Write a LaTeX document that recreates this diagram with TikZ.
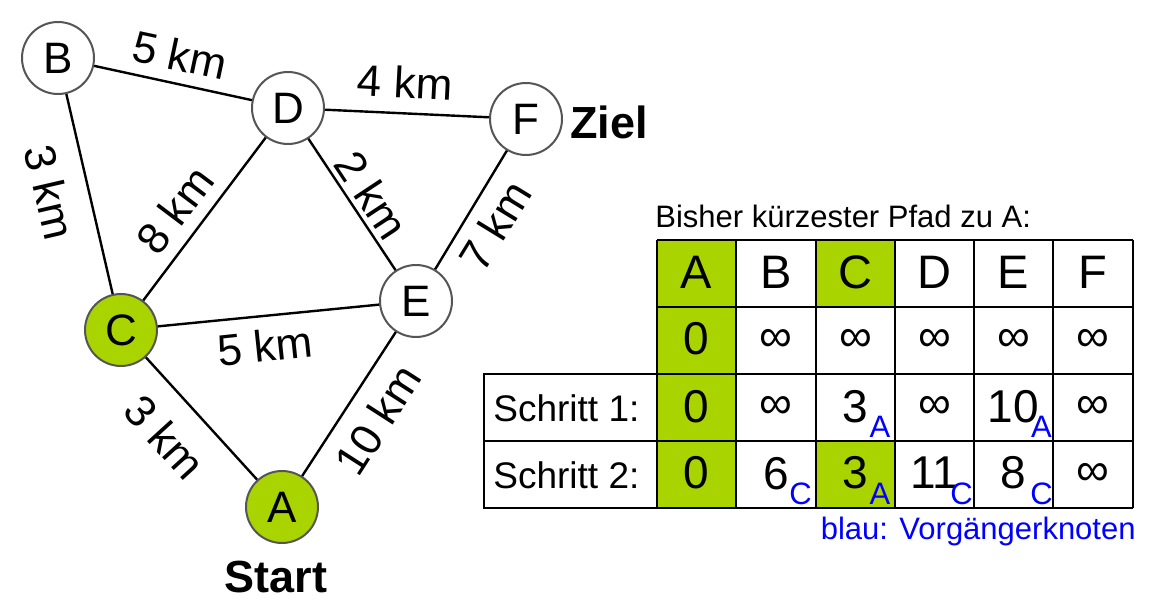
\documentclass[tikz,border=0pt]{standalone}
\usepackage{fontspec}
\setmainfont{Liberation Sans}
\definecolor{lgreen}{RGB}{170,212,0}
\definecolor{ngray}{RGB}{85,85,85}
\begin{document}
\begin{tikzpicture}[x=0.5pt,y=-0.5pt,
 vertex/.style={circle,draw=ngray,line width=1pt,minimum size=36pt,inner sep=0pt,font=\fontsize{22}{22}\selectfont,fill=white},
 greenvertex/.style={vertex,fill=lgreen},
 edge/.style={line width=1.2pt},
 dist/.style={font=\fontsize{22}{22}\selectfont,inner sep=0pt},
 boldlabel/.style={font=\fontsize{22.5}{22}\selectfont\bfseries,inner sep=0pt},
 head/.style={font=\fontsize{23.5}{24}\selectfont,inner sep=0pt,anchor=base},
 val/.style={font=\fontsize{23}{23}\selectfont,inner sep=0pt,anchor=base},
 inf/.style={font=\fontsize{23}{23}\selectfont,inner sep=0pt},
 subl/.style={font=\fontsize{15.5}{15.5}\selectfont,text=blue,inner sep=0pt,anchor=base},
 rowlabel/.style={font=\fontsize{18.5}{18.5}\selectfont,inner sep=0pt,anchor=base west},
 note/.style={font=\fontsize{15.5}{15.5}\selectfont,inner sep=0pt},
 tline/.style={line width=1pt},
 sline/.style={line width=1.4pt}]
\useasboundingbox (0,0) rectangle (1152,608);
% graph
\node[vertex] (B) at (58,58) {B};
\node[vertex] (D) at (288,108) {D};
\node[vertex] (F) at (526,119) {F};
\node[vertex] (E) at (416,301) {E};
\node[greenvertex] (C) at (121,330) {C};
\node[greenvertex] (A) at (282,507) {A};
\draw[edge] (B)--(D) (D)--(F) (B)--(C) (C)--(D) (D)--(E) (E)--(F) (C)--(E) (C)--(A) (A)--(E);
\node[dist,rotate=-12] (lBD) at (180,55) {5 km};
\node[dist,rotate=-3] (lDF) at (405,82) {4 km};
\node[dist,rotate=-77] (lBC) at (50,192) {3 km};
\node[dist,rotate=53] (lCD) at (175,210) {8 km};
\node[dist,rotate=-56.5] (lDE) at (372,195) {2 km};
\node[dist,rotate=58.5] (lEF) at (495,226) {7 km};
\node[dist,rotate=6] (lCE) at (265,346) {5 km};
\node[dist,rotate=-47.7] (lCA) at (165,437) {3 km};
\node[dist,rotate=57.3] (lAE) at (378,420) {10 km};
\node[boldlabel,anchor=west] (ziel) at (570,122) {Ziel};
\node[boldlabel] (start) at (276,577) {Start};
% table
\fill[lgreen] (657,240) rectangle (736,508);
\fill[lgreen] (816,240) rectangle (895,307);
\fill[lgreen] (816,441) rectangle (895,508);
\foreach \x in {657,736,816,895,974,1053,1133} \draw[tline] (\x,240) -- (\x,508);
\foreach \y in {240,307,374,441,508} \draw[tline] (657,\y) -- (1133,\y);
\draw[sline] (657,374) -- (484,374) -- (484,508) -- (657,508);
\draw[sline] (484,441) -- (657,441);
\draw[sline] (657,374) -- (657,508);
\node[note,anchor=base west] (title) at (655,228) {Bisher kürzester Pfad zu A:};
\node[head] (hA) at (696.5,289) {A};
\node[head] (hB) at (776,289) {B};
\node[head] (hC) at (855.5,289) {C};
\node[head] (hD) at (934.5,289) {D};
\node[head] (hE) at (1013.5,289) {E};
\node[head] (hF) at (1093,289) {F};
% row 0
\node[val] (r0A) at (696.5,355) {0};
\node[inf] (r0B) at (776,340) {∞};
\node[inf] (r0C) at (855.5,340) {∞};
\node[inf] (r0D) at (934.5,340) {∞};
\node[inf] (r0E) at (1013.5,340) {∞};
\node[inf] (r0F) at (1093,340) {∞};
% row 1
\node[rowlabel] (s1) at (493,422) {Schritt 1:};
\node[val] (r1A) at (696.5,423) {0};
\node[inf] (r1B) at (776,407) {∞};
\node[val] (r1C) at (855.5,423) {3};
\node[subl] (r1Cs) at (880,438) {A};
\node[inf] (r1D) at (934.5,407) {∞};
\node[val] (r1E) at (1013.5,423) {10};
\node[subl] (r1Es) at (1041.5,438) {A};
\node[inf] (r1F) at (1093,407) {∞};
% row 2
\node[rowlabel] (s2) at (493,489) {Schritt 2:};
\node[val] (r2A) at (696.5,489) {0};
\node[val] (r2B) at (776,490) {6};
\node[subl] (r2Bs) at (800.5,505) {C};
\node[val] (r2C) at (855.5,489) {3};
\node[subl] (r2Cs) at (880,505) {A};
\node[val] (r2D) at (934.5,489) {11};
\node[subl] (r2Ds) at (961.5,505) {C};
\node[val] (r2E) at (1013.5,489) {8};
\node[subl] (r2Es) at (1041.5,505) {C};
\node[inf] (r2F) at (1093,474) {∞};
\node[note,text=blue,anchor=base east] (blau) at (1136,540) {blau: Vorgängerknoten};
\end{tikzpicture}
\end{document}
